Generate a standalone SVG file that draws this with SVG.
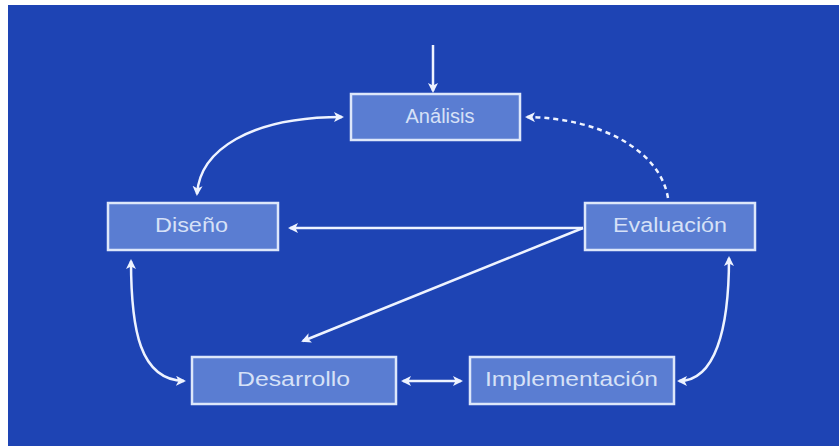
<svg xmlns="http://www.w3.org/2000/svg" width="839" height="446" viewBox="0 0 839 446">
<defs>
<marker id="ah" markerWidth="10" markerHeight="10" refX="8" refY="5" orient="auto-start-reverse" markerUnits="userSpaceOnUse">
<path d="M0,0 L10,5 L0,10 L2.5,5 Z" fill="#eef3ff"/>
</marker>
<style>
.box{fill:#5a7dd2;stroke:#dde7fa;stroke-width:2.5}
.lbl{font-family:"Liberation Sans",Arial,sans-serif;font-size:20px;fill:#d6e1f7;text-anchor:middle;dominant-baseline:central}
.c{fill:none;stroke:#eef3ff;stroke-width:2.5}
.d{stroke-dasharray:5 4}
</style>
</defs>
<rect x="0" y="0" width="839" height="446" fill="#ffffff"/>
<rect x="8" y="5" width="831" height="441" fill="#1e44b4"/>
<g id="connectors">
<path class="c" d="M433,45 L433,91" marker-end="url(#ah)"/>
<path class="c" d="M342,117 C250,117 200,150 197,194" marker-start="url(#ah)" marker-end="url(#ah)"/>
<path class="c d" d="M668,198 C660,150 600,118 527,117" marker-end="url(#ah)"/>
<path class="c" d="M583,228 L290,228" marker-end="url(#ah)"/>
<path class="c" d="M583,228 L303,341" marker-end="url(#ah)"/>
<path class="c" d="M131,261 C131,330 140,380 184,381" marker-start="url(#ah)" marker-end="url(#ah)"/>
<path class="c" d="M403,381 L461,381" marker-start="url(#ah)" marker-end="url(#ah)"/>
<path class="c" d="M729,258 C729,330 715,381 679,381" marker-start="url(#ah)" marker-end="url(#ah)"/>
</g>
<g id="analisis">
<rect class="box" x="351" y="94" width="169" height="46"/>
<text class="lbl" x="440" y="116" textLength="69" lengthAdjust="spacingAndGlyphs">Análisis</text>
</g>
<g id="diseno">
<rect class="box" x="108" y="203" width="170" height="47"/>
<text class="lbl" x="191.5" y="225" textLength="73" lengthAdjust="spacingAndGlyphs">Diseño</text>
</g>
<g id="evaluacion">
<rect class="box" x="585" y="203" width="170" height="47"/>
<text class="lbl" x="670" y="225" textLength="114" lengthAdjust="spacingAndGlyphs">Evaluación</text>
</g>
<g id="desarrollo">
<rect class="box" x="192" y="357" width="204" height="47"/>
<text class="lbl" x="293.5" y="379" textLength="113" lengthAdjust="spacingAndGlyphs">Desarrollo</text>
</g>
<g id="implementacion">
<rect class="box" x="470" y="357" width="204" height="47"/>
<text class="lbl" x="571.5" y="379" textLength="173" lengthAdjust="spacingAndGlyphs">Implementación</text>
</g>
</svg>
